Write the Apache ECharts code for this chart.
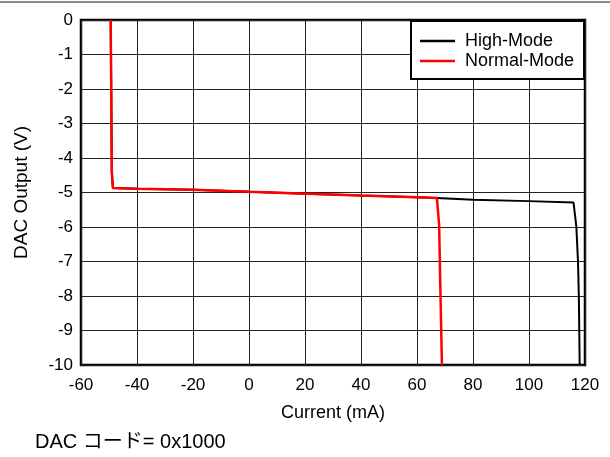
<!DOCTYPE html>
<html>
<head>
<meta charset="utf-8">
<script src="https://cdn.jsdelivr.net/npm/echarts@6/dist/echarts.min.js"></script>
<style>
  html, body { margin: 0; padding: 0; background: #fff; }
  #chart { width: 610px; height: 457px; }
</style>
</head>
<body>
<div id="chart"></div>
<script>
// Output voltage vs. load current for the two drive modes
const xTicks = { min: -60, max: 120, step: 20 };
const yTicks = { min: -10, max: 0, step: 1 };

const highCurrent = [-49.4, -49.2, -49.0, -48.6, -40, -20, 0, 18, 40, 60, 67.1, 80, 100, 115.9, 116.9, 117.5, 117.8, 118.1];
const highVoltage = [0, -2, -4.4, -4.87, -4.89, -4.92, -4.98, -5.03, -5.09, -5.14, -5.16, -5.21, -5.25, -5.29, -5.98, -7, -8, -10];

const normalCurrent = [-49.4, -49.2, -49.0, -48.6, -40, -20, 0, 18, 40, 60, 67.1, 67.9, 68.4, 68.9];
const normalVoltage = [0, -2, -4.4, -4.87, -4.89, -4.92, -4.98, -5.03, -5.09, -5.14, -5.16, -5.93, -8, -10];

const seriesNames = ['High-Mode', 'Normal-Mode'];
const footnote = 'DAC コード= 0x1000';

const FONT = '"Liberation Sans", Arial, Helvetica, "Noto Sans CJK JP", sans-serif';

const pairs = (xs, ys) => xs.map((x, i) => [x, ys[i]]);

const chart = echarts.init(document.getElementById('chart'), null, { renderer: 'canvas' });

chart.setOption({
  animation: false,
  backgroundColor: '#fff',
  textStyle: { fontFamily: FONT, color: '#000' },
  grid: {
    left: 81, right: 25, top: 20, bottom: 92,
    show: true, borderColor: '#000', borderWidth: 2.5, backgroundColor: 'transparent'
  },
  xAxis: {
    type: 'value',
    min: xTicks.min, max: xTicks.max, interval: xTicks.step,
    name: 'Current (mA)',
    nameLocation: 'middle',
    nameGap: 39,
    nameTextStyle: { fontSize: 18, color: '#000', fontFamily: FONT },
    axisLine: { show: false },
    axisTick: { show: false },
    axisLabel: { fontSize: 17, color: '#000', margin: 12, fontFamily: FONT },
    splitLine: { show: true, lineStyle: { color: '#222', width: 1 } }
  },
  yAxis: {
    type: 'value',
    min: yTicks.min, max: yTicks.max, interval: yTicks.step,
    name: 'DAC Output (V)',
    nameLocation: 'middle',
    nameGap: 50,
    nameTextStyle: { fontSize: 19, color: '#000', fontFamily: FONT },
    axisLine: { show: false },
    axisTick: { show: false },
    axisLabel: { fontSize: 17, color: '#000', margin: 8, fontFamily: FONT },
    splitLine: { show: true, lineStyle: { color: '#222', width: 1 } }
  },
  legend: {
    orient: 'vertical',
    left: 411, top: 21,
    padding: [11, 10, 9, 9],
    itemGap: 2,
    itemWidth: 35, itemHeight: 2.5,
    icon: 'rect',
    backgroundColor: '#fff',
    borderColor: '#000', borderWidth: 2,
    textStyle: { fontSize: 18, color: '#000', fontFamily: FONT, padding: [0, 0, 0, 5], lineHeight: 18 },
    data: seriesNames
  },
  series: [
    {
      name: seriesNames[0],
      type: 'line',
      data: pairs(highCurrent, highVoltage),
      symbol: 'none',
      lineStyle: { color: '#000', width: 2 },
      itemStyle: { color: '#000' },
      z: 2
    },
    {
      name: seriesNames[1],
      type: 'line',
      data: pairs(normalCurrent, normalVoltage),
      symbol: 'none',
      lineStyle: { color: '#ff0000', width: 2.5 },
      itemStyle: { color: '#ff0000' },
      z: 3
    }
  ],
  graphic: [
    {
      type: 'rect',
      shape: { x: 0, y: 1, width: 610, height: 2 },
      style: { fill: '#8a8a8a' }
    },
    {
      type: 'text',
      left: 35, top: 432,
      style: { text: footnote, fontSize: 20, fill: '#000', fontFamily: FONT }
    }
  ]
});
</script>
</body>
</html>
